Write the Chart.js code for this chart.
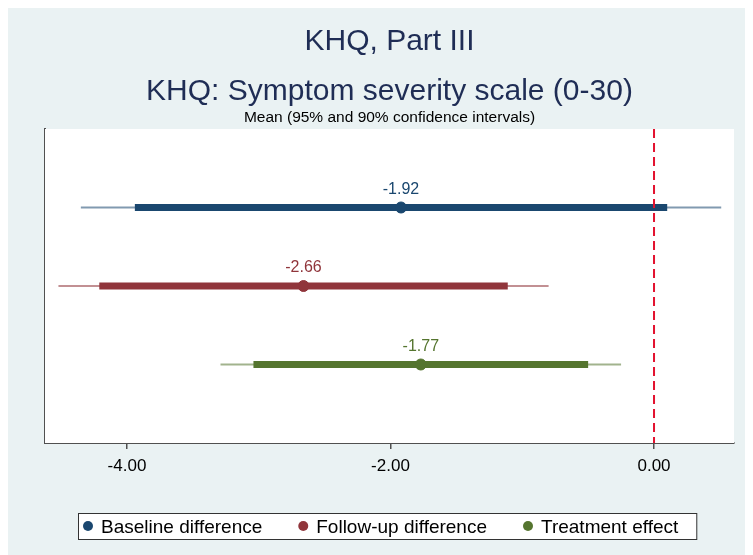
<!DOCTYPE html>
<html>
<head>
<meta charset="utf-8">
<script src="https://cdn.jsdelivr.net/npm/chart.js@4.4.1/dist/chart.umd.min.js"></script>
<style>
  body { margin: 8px; overflow: hidden; background: #ffffff; }
  #khq { background: #eaf2f3; display: block; }
</style>
</head>
<body>
<canvas id="khq" width="745" height="547"></canvas>
<script>
// Data
var seriesNames = ['Baseline difference', 'Follow-up difference', 'Treatment effect'];
var means = [-1.92, -2.66, -1.77];
var lo95 = [-4.35, -4.52, -3.29];
var hi95 = [0.51, -0.80, -0.25];
var lo90 = [-3.94, -4.21, -3.04];
var hi90 = [0.10, -1.11, -0.50];
var xTicks = [-4, -2, 0];
var refValue = 0;

var solid = ['#1a476f', '#90353b', '#55752f'];
var faded = ['rgba(26, 71, 111, 0.55)', 'rgba(144, 53, 59, 0.55)', 'rgba(85, 117, 47, 0.55)'];
var fontFam = '"Liberation Sans", Arial, sans-serif';

var datasets = [];
// reference line at zero
datasets.push({
    data: [{x: refValue, y: 0}, {x: refValue, y: 4}],
    showLine: true,
    borderColor: '#e3122f',
    borderWidth: 2,
    borderDash: [9, 5],
    pointRadius: 0,
    order: 0
});
seriesNames.forEach(function(name, i) {
    var row = i + 1;
    datasets.push({
        label: name,
        data: [{x: means[i], y: row}],
        pointRadius: 5.5,
        pointBackgroundColor: solid[i],
        pointBorderColor: solid[i],
        order: 1
    });
    datasets.push({
        data: [{x: lo90[i], y: row}, {x: hi90[i], y: row}],
        showLine: true,
        borderColor: solid[i],
        borderWidth: 7,
        borderCapStyle: 'butt',
        pointRadius: 0,
        order: 2
    });
    datasets.push({
        data: [{x: lo95[i], y: row}, {x: hi95[i], y: row}],
        showLine: true,
        borderColor: faded[i],
        borderWidth: 2,
        borderCapStyle: 'butt',
        pointRadius: 0,
        order: 3
    });
});

// white plot area, titles, value labels and the boxed legend
var decor = {
    id: 'decor',
    beforeDatasetsDraw: function(chart) {
        var a = chart.chartArea, ctx = chart.ctx;
        ctx.save();
        ctx.fillStyle = '#ffffff';
        ctx.fillRect(a.left, a.top, a.right - a.left, a.bottom - a.top);
        ctx.restore();
    },
    afterDraw: function(chart) {
        var ctx = chart.ctx, a = chart.chartArea;
        var xs = chart.scales.x, ys = chart.scales.y;
        var cx = (a.left + a.right) / 2;
        ctx.save();
        ctx.textAlign = 'center';
        ctx.textBaseline = 'alphabetic';
        ctx.fillStyle = '#1f2d55';
        ctx.font = '30px ' + fontFam;
        ctx.fillText('KHQ, Part III', cx, 42);
        ctx.fillText('KHQ: Symptom severity scale (0-30)', cx, 92);
        ctx.fillStyle = '#000000';
        ctx.font = '15.5px ' + fontFam;
        ctx.fillText('Mean (95% and 90% confidence intervals)', cx, 114);

        // value labels above the means
        ctx.font = '16px ' + fontFam;
        means.forEach(function(m, i) {
            ctx.fillStyle = solid[i];
            ctx.fillText(m.toFixed(2), xs.getPixelForValue(m), ys.getPixelForValue(i + 1) - 14);
        });

        // legend
        ctx.font = '19px ' + fontFam;
        ctx.textAlign = 'left';
        var gap = 41, dotGap = 13, padL = 10, padR = 18;
        var widths = seriesNames.map(function(s) { return ctx.measureText(s).width; });
        var total = padL + padR;
        widths.forEach(function(w, i) { total += dotGap + w + (i < widths.length - 1 ? gap : 0); });
        var left = Math.round(cx - total / 2) - 2, top = 505, h = 26;
        ctx.fillStyle = '#ffffff';
        ctx.fillRect(left, top, total, h);
        ctx.strokeStyle = '#333333';
        ctx.lineWidth = 1;
        ctx.strokeRect(left + 0.5, top + 0.5, total, h);
        var x = left + padL;
        seriesNames.forEach(function(s, i) {
            ctx.fillStyle = solid[i];
            ctx.beginPath();
            ctx.arc(x, top + h / 2, 5, 0, Math.PI * 2);
            ctx.fill();
            ctx.fillStyle = '#000000';
            ctx.fillText(s, x + dotGap, top + h / 2 + 7);
            x += dotGap + widths[i] + gap;
        });
        ctx.restore();
    }
};

var chart = new Chart(document.getElementById('khq').getContext('2d'), {
    type: 'scatter',
    data: { datasets: datasets },
    plugins: [decor],
    options: {
        responsive: false,
        animation: false,
        layout: { padding: { left: 0, right: 19, top: 121, bottom: 72 } },
        plugins: {
            legend: { display: false },
            title: { display: false },
            tooltip: { enabled: false }
        },
        scales: {
            x: {
                type: 'linear',
                min: -4.622,
                max: 0.607,
                afterBuildTicks: function(scale) {
                    scale.ticks = xTicks.map(function(v) { return {value: v}; });
                },
                afterFit: function(scale) { scale.height = 40; },
                ticks: {
                    color: '#000000',
                    font: { family: fontFam, size: 17 },
                    padding: 7,
                    maxRotation: 0,
                    callback: function(v) { return Number(v).toFixed(2); }
                },
                grid: {
                    display: true,
                    drawOnChartArea: false,
                    drawTicks: true,
                    tickLength: 6,
                    color: '#505050',
                    lineWidth: 1.5
                },
                border: { display: true, color: '#505050', width: 2 }
            },
            y: {
                type: 'linear',
                min: 0,
                max: 4,
                reverse: true,
                afterFit: function(scale) { scale.width = 37; },
                ticks: { display: false },
                grid: { display: false },
                border: { display: true, color: '#505050', width: 2 }
            }
        }
    }
});
</script>
</body>
</html>
